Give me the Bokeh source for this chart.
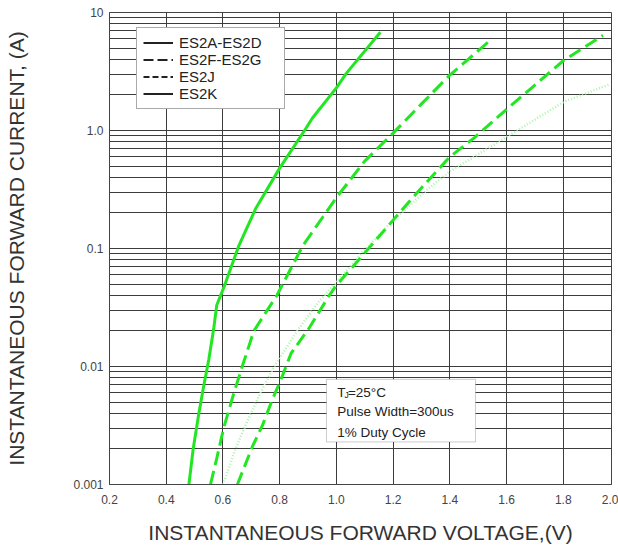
from bokeh.plotting import figure
from bokeh.models import FixedTicker, Legend, LegendItem, BoxAnnotation, Label
from bokeh.embed import file_html
from bokeh.resources import INLINE

# ---- data ----
vf_a = [0.48, 0.495, 0.515, 0.532, 0.55, 0.568, 0.578, 0.605, 0.655, 0.715, 0.80, 0.89, 0.915, 1.0, 1.035, 1.155]
if_a = [0.001, 0.002, 0.004, 0.0068, 0.0114, 0.0214, 0.033, 0.048, 0.104, 0.217, 0.48, 1.02, 1.27, 2.3, 3.05, 6.8]

vf_b = [0.556, 0.579, 0.604, 0.639, 0.668, 0.709, 0.79, 0.881, 1.0, 1.1, 1.2, 1.3, 1.4, 1.546]
if_b = [0.001, 0.0017, 0.0031, 0.006, 0.01, 0.02, 0.040, 0.105, 0.27, 0.55, 0.95, 1.68, 2.95, 5.9]

vf_c = [0.60, 0.644, 0.68, 0.733, 0.78, 0.87, 0.94, 1.0, 1.09, 1.2, 1.33, 1.4, 1.59, 1.8, 1.965]
if_c = [0.001, 0.002, 0.0032, 0.006, 0.01, 0.0214, 0.036, 0.052, 0.092, 0.174, 0.33, 0.45, 0.85, 1.74, 2.47]

vf_d = [0.651, 0.704, 0.74, 0.775, 0.805, 0.84, 0.905, 0.975, 1.0, 1.09, 1.2, 1.29, 1.4, 1.488, 1.6, 1.8, 1.94]
if_d = [0.001, 0.0021, 0.0032, 0.0053, 0.0078, 0.0129, 0.0214, 0.040, 0.0488, 0.086, 0.174, 0.307, 0.598, 0.875, 1.51, 3.9, 6.4]

series_names = ["ES2A-ES2D", "ES2F-ES2G", "ES2J", "ES2K"]

x_ticks = [0.2, 0.4, 0.6, 0.8, 1.0, 1.2, 1.4, 1.6, 1.8, 1.97]
x_tick_labels = ["0.2", "0.4", "0.6", "0.8", "1.0", "1.2", "1.4", "1.6", "1.8", "2.0"]
y_ticks = [0.001, 0.01, 0.1, 1.0, 10.0]
y_tick_labels = ["0.001", "0.01", "0.1", "1.0", "10"]

note_lines = ["Pulse Width=300us", "1% Duty Cycle"]

x_title = "INSTANTANEOUS FORWARD VOLTAGE,(V)"
y_title = "INSTANTANEOUS FORWARD CURRENT, (A)"

# ---- figure ----
FONT = "Liberation Sans"
GREEN = "#22e622"
GRID = "#3c3c3c"

p = figure(width=618, height=549, x_range=(0.2, 1.97), y_range=(0.001, 10),
           y_axis_type="log", output_backend="svg", toolbar_location=None,
           min_border_left=109, min_border_right=7, min_border_top=12, min_border_bottom=65)
p.background_fill_color = "white"
p.border_fill_color = "white"
p.outline_line_color = "#444"
p.outline_line_width = 1

minor_y = [k * 10.0 ** e for e in range(-3, 1) for k in range(2, 10)]
p.yaxis.ticker = FixedTicker(ticks=y_ticks, minor_ticks=minor_y)
p.yaxis.major_label_overrides = dict(zip(y_ticks, y_tick_labels))
p.xaxis.ticker = FixedTicker(ticks=x_ticks)
p.xaxis.major_label_overrides = dict(zip(x_ticks, x_tick_labels))

for ax in (p.xaxis, p.yaxis):
    ax.major_tick_line_color = None
    ax.minor_tick_line_color = None
    ax.major_tick_out = 0
    ax.major_tick_in = 0
    ax.minor_tick_out = 0
    ax.minor_tick_in = 0
    ax.axis_line_color = "#444"
    ax.major_label_text_font = FONT
    ax.major_label_text_font_size = "12px"
    ax.major_label_text_color = "#444"
    ax.axis_label_text_font = FONT
    ax.axis_label_text_font_size = "21px"
    ax.axis_label_text_font_style = "normal"
    ax.axis_label_text_color = "#333"

p.xaxis.axis_label = x_title
p.yaxis.axis_label = y_title
p.xaxis.major_label_standoff = 10
p.yaxis.major_label_standoff = 6
p.xaxis.axis_label_standoff = 14
p.yaxis.axis_label_standoff = 42

p.xgrid.grid_line_color = GRID
p.ygrid.grid_line_color = GRID
p.ygrid.minor_grid_line_color = GRID
p.xgrid.grid_line_width = 1
p.ygrid.grid_line_width = 1
p.ygrid.minor_grid_line_width = 1

# ---- curves ----
p.line(vf_a, if_a, line_color=GREEN, line_width=3)
p.line(vf_b, if_b, line_color=GREEN, line_width=3, line_dash="14 6")
p.line(vf_c, if_c, line_color="#adf3ad", line_width=2.5, line_dash="1 2")
p.line(vf_d, if_d, line_color=GREEN, line_width=3, line_dash="13 6")

# ---- legend (black samples as in the reference; one-point renderers draw nothing on the plot) ----
r1 = p.line(vf_a[:1], if_a[:1], line_color="#222", line_width=2)
r2 = p.line(vf_b[:1], if_b[:1], line_color="#222", line_width=2, line_dash="10 4")
r3 = p.line(vf_c[:1], if_c[:1], line_color="#222", line_width=2, line_dash="6 3")
r4 = p.line(vf_d[:1], if_d[:1], line_color="#222", line_width=2)
legend = Legend(items=[LegendItem(label=n, renderers=[r]) for n, r in zip(series_names, [r1, r2, r3, r4])],
                location=(27, 375), orientation="vertical",
                label_text_font=FONT, label_text_font_size="15px", label_text_color="#222",
                glyph_width=30, glyph_height=17, label_height=17, label_standoff=6,
                label_width=99, padding=6, spacing=0, margin=0,
                border_line_color="#555", border_line_width=1,
                background_fill_color="white", background_fill_alpha=1)
p.add_layout(legend)

# ---- conditions box ----
bx_left, bx_right, bx_bottom, bx_top = 0.965, 1.4906, 0.002294, 0.00778
p.add_layout(BoxAnnotation(left=bx_left, right=bx_right, bottom=bx_bottom, top=bx_top,
                           fill_color="white", fill_alpha=1, line_color="#555", line_width=1))
common = dict(x=bx_left, y=bx_top, text_font=FONT, text_color="#222",
              text_baseline="middle", text_align="left")
p.add_layout(Label(text="T", x_offset=10.7, y_offset=-12.7, text_font_size="13.5px", **common))
p.add_layout(Label(text="J", x_offset=18.0, y_offset=-15.5, text_font_size="8.5px", **common))
p.add_layout(Label(text="=25°C", x_offset=21.5, y_offset=-12.7, text_font_size="13.5px", **common))
p.add_layout(Label(text=note_lines[0], x_offset=10.7, y_offset=-32.0, text_font_size="13.5px", **common))
p.add_layout(Label(text=note_lines[1], x_offset=10.7, y_offset=-52.7, text_font_size="13.5px", **common))

open("out.html", "w").write(file_html(p, INLINE))
